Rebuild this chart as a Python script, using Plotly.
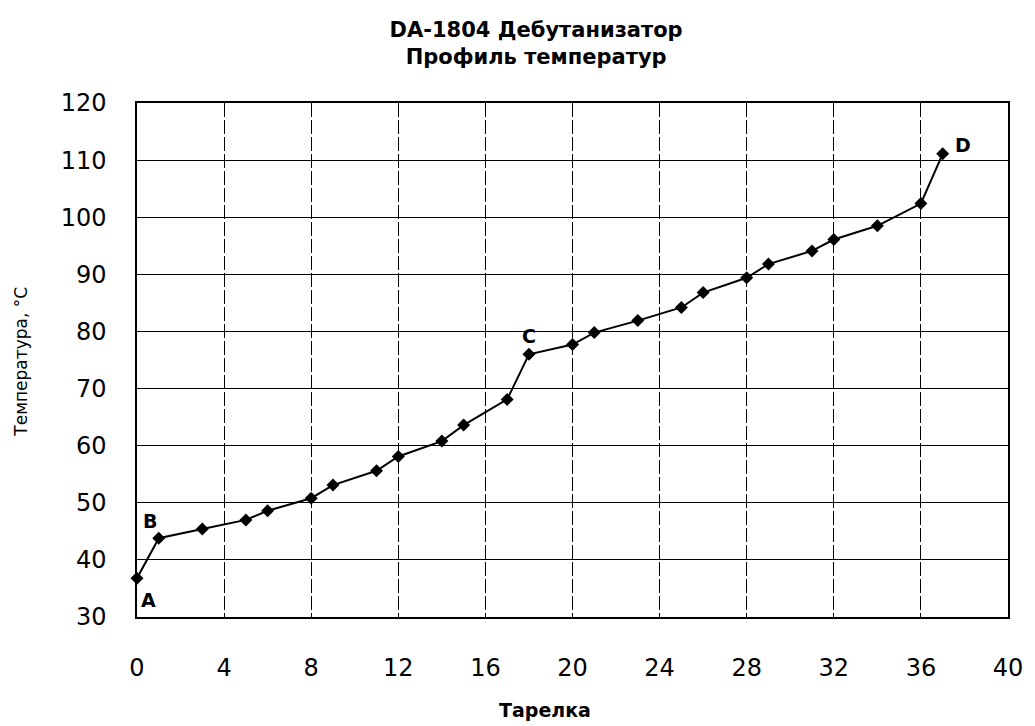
import plotly.graph_objects as go

# Data
trays = [0, 1, 3, 5, 6, 8, 9, 11, 12, 14, 15, 17, 18, 20, 21, 23, 25, 26, 28, 29, 31, 32, 34, 36, 37]
temps = [36.8, 43.8, 45.4, 47.0, 48.6, 50.8, 53.1, 55.6, 58.1, 60.8, 63.6, 68.1, 76.0,
         77.7, 79.8, 81.9, 84.2, 86.8, 89.4, 91.8, 94.1, 96.1, 98.5, 102.4, 111.1]

x_ticks = [0, 4, 8, 12, 16, 20, 24, 28, 32, 36, 40]
y_ticks = [30, 40, 50, 60, 70, 80, 90, 100, 110, 120]

point_labels = ["A", "B", "C", "D"]
point_label_idx = [0, 1, 12, 24]
label_shifts = [(11, -22), (-9, 17), (0, 18), (20, 9)]

title_text = "DA-1804 Дебутанизатор<br>Профиль температур"
x_title = "Тарелка"
y_title = "Температура, °С"

FONT = "DejaVu Sans"

fig = go.Figure()
fig.add_trace(go.Scatter(
    x=trays, y=temps, mode="lines+markers",
    line=dict(color="black", width=2),
    marker=dict(symbol="diamond", size=10, color="black"),
    cliponaxis=False, showlegend=False,
))

for lab, idx, (dx, dy) in zip(point_labels, point_label_idx, label_shifts):
    fig.add_annotation(
        x=trays[idx], y=temps[idx], text="<b>%s</b>" % lab, showarrow=False,
        xshift=dx, yshift=dy, font=dict(family=FONT, size=19, color="black"),
    )

fig.add_annotation(
    xref="paper", yref="paper", x=0.468, y=-0.181, text="<b>%s</b>" % x_title,
    showarrow=False, xanchor="center", yanchor="middle",
    font=dict(family=FONT, size=19, color="black"),
)
fig.add_annotation(
    xref="paper", yref="paper", x=-0.1336, y=0.496, text=y_title, textangle=-90,
    showarrow=False, xanchor="center", yanchor="middle",
    font=dict(family=FONT, size=17, color="black"),
)

fig.update_layout(
    width=1035, height=726,
    margin=dict(l=137, r=22, t=103, b=109),
    paper_bgcolor="white", plot_bgcolor="white",
    title=dict(text="<b>%s</b>" % title_text, x=0.518, xref="container", xanchor="center",
               y=1 - 37 / 726, yref="container", yanchor="middle",
               font=dict(family=FONT, size=21, color="black")),
    font=dict(family=FONT, color="black"),
)

fig.update_xaxes(
    range=[0, 40], tickvals=x_ticks, ticktext=[str(v) for v in x_ticks],
    showgrid=True, gridcolor="black", gridwidth=1, griddash="14px,3px",
    showline=True, linecolor="black", linewidth=1.5, mirror=True,
    ticks="", ticklabelstandoff=28, zeroline=False,
    tickfont=dict(family=FONT, size=24, color="black"),
)
fig.update_yaxes(
    range=[30, 120], tickvals=y_ticks, ticktext=[str(v) for v in y_ticks],
    showgrid=True, gridcolor="black", gridwidth=1.2,
    showline=True, linecolor="black", linewidth=1.5, mirror=True,
    ticks="", ticklabelstandoff=24, zeroline=False,
    tickfont=dict(family=FONT, size=24, color="black"),
)

fig.write_html("out.html")
